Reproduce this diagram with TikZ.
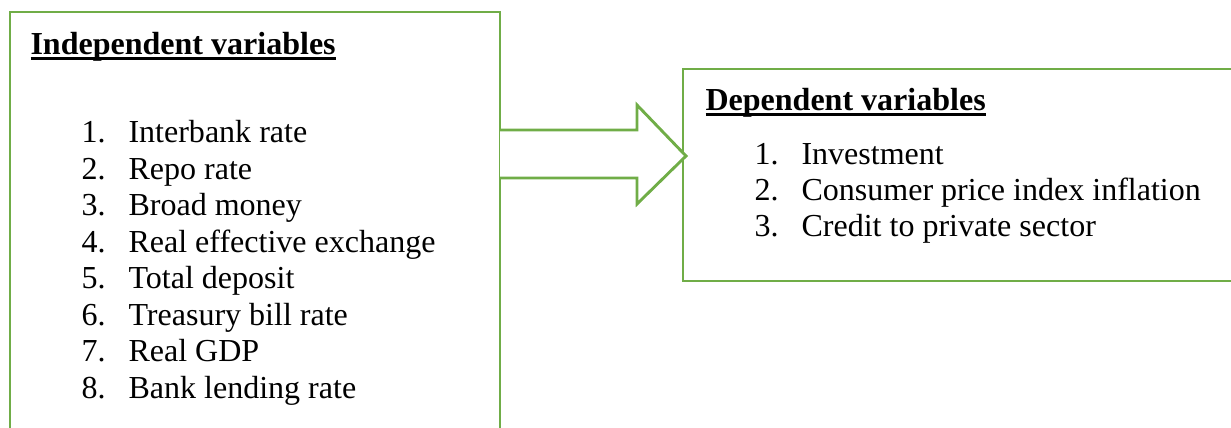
\documentclass[tikz,border=0pt]{standalone}
\usepackage{fontspec}
\setmainfont{Liberation Serif}
\usetikzlibrary{calc}
\definecolor{boxgreen}{HTML}{70AD47}
% heavy underline as in the word-processor headings
\newcommand\headul[1]{\setbox0\hbox{#1}\rlap{\rule[-1.95pt]{\wd0}{1.2pt}}\box0}
\begin{document}
\begin{tikzpicture}[
      x=0.3825pt, y=-0.3825pt,
      every node/.style={font=\fontsize{12.25}{14}\selectfont, inner sep=0pt},
      frame/.style={draw=boxgreen, line width=1.1pt},
      head/.style={anchor=base west, font=\fontsize{12.25}{14}\selectfont\bfseries},
      item/.style={anchor=base west},
    ]
    \useasboundingbox (0,0) rectangle (1231,428);
    \clip (0,0) rectangle (1231,428);

    % --- LEFT: independent variables ---
    \draw[frame] (10,440) -- (10,12) -- (500,12) -- (500,440);
    \node[head] (indhead) at (30,55) {\headul{Independent variables}};
    \foreach \txt [count=\i] in {Interbank rate, Repo rate, Broad money,
        Real effective exchange, Total deposit, Treasury bill rate,
        Real GDP, Bank lending rate} {
      \node[item] (inum\i) at (81, 106.5+\i*36.5) {\i.};
      \node[item] (ind\i) at (128, 106.5+\i*36.5) {\txt};
    }

    % --- RIGHT: dependent variables ---
    \draw[frame] (1240,69) -- (683,69) -- (683,281) -- (1240,281);
    \node[head] (dephead) at (705,111) {\headul{Dependent variables}};
    \foreach \txt [count=\i] in {Investment, Consumer price index inflation,
        Credit to private sector} {
      \node[item] (dnum\i) at (754, 129+\i*36) {\i.};
      \node[item] (dep\i) at (801, 129+\i*36) {\txt};
    }

    % block arrow between the boxes
    \coordinate (atail) at (500,154);
    \coordinate (atip) at (686,156);
    \draw[frame, fill=white, line join=miter]
      ($(atail)+(0,-24)$) -- (637,130) -- (637,105) -- (atip)
      -- (637,204) -- (637,178) -- ($(atail)+(0,24)$);
  \end{tikzpicture}
\end{document}
